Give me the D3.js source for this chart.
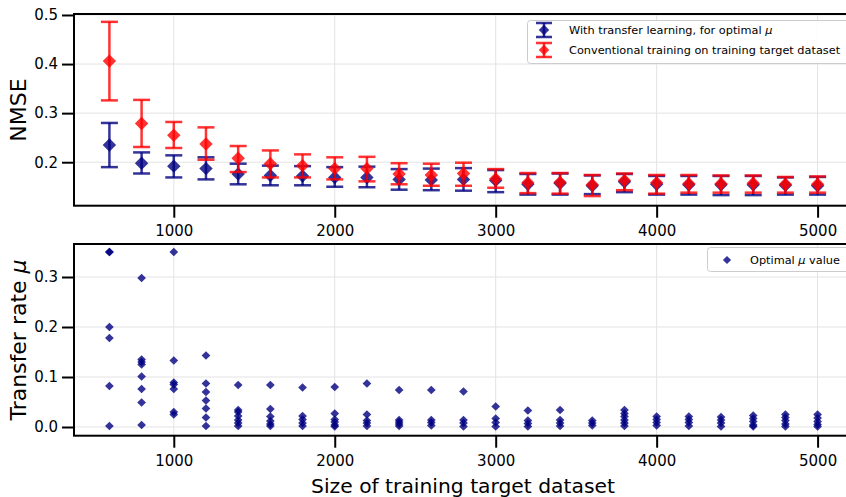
<!DOCTYPE html>
<html>
<head>
<meta charset="utf-8">
<script src="https://cdn.jsdelivr.net/npm/d3@7"></script>
<style>
  body { margin: 0; background: #fff; }
  svg { display: block; font-family: "DejaVu Sans", sans-serif; }
</style>
</head>
<body>
<div id="chart"></div>
<script>
// training set sizes (x axis, shared by both panels)
const sizes = [600, 800, 1000, 1200, 1400, 1600, 1800, 2000, 2200, 2400, 2600, 2800,
  3000, 3200, 3400, 3600, 3800, 4000, 4200, 4400, 4600, 4800, 5000];

// NMSE with transfer learning (mean, lower, upper)
const transferMean = [0.235, 0.198, 0.192, 0.187, 0.176, 0.173, 0.172, 0.169, 0.169, 0.165, 0.164, 0.165,
  0.163, 0.155, 0.157, 0.152, 0.160, 0.155, 0.154, 0.154, 0.154, 0.153, 0.152];
const transferLow = [0.190, 0.177, 0.169, 0.165, 0.155, 0.153, 0.153, 0.150, 0.149, 0.144, 0.143, 0.142,
  0.139, 0.134, 0.134, 0.135, 0.139, 0.134, 0.134, 0.133, 0.133, 0.134, 0.134];
const transferHigh = [0.280, 0.220, 0.214, 0.210, 0.197, 0.193, 0.192, 0.190, 0.191, 0.186, 0.187, 0.188,
  0.184, 0.176, 0.177, 0.173, 0.176, 0.172, 0.172, 0.172, 0.172, 0.169, 0.170];

// NMSE with conventional training
const convMean = [0.406, 0.279, 0.255, 0.237, 0.208, 0.197, 0.193, 0.187, 0.187, 0.176, 0.174, 0.177,
  0.166, 0.158, 0.159, 0.154, 0.163, 0.158, 0.156, 0.156, 0.157, 0.155, 0.155];
const convLow = [0.326, 0.231, 0.229, 0.205, 0.180, 0.169, 0.169, 0.165, 0.161, 0.155, 0.152, 0.152,
  0.148, 0.137, 0.136, 0.131, 0.143, 0.136, 0.138, 0.138, 0.138, 0.138, 0.138];
const convHigh = [0.486, 0.327, 0.282, 0.271, 0.233, 0.224, 0.216, 0.210, 0.211, 0.198, 0.197, 0.199,
  0.186, 0.178, 0.178, 0.174, 0.177, 0.174, 0.174, 0.173, 0.173, 0.170, 0.171];

// optimal mu values found for each size (one list per size)
const muValues = [
  [0.350, 0.350, 0.200, 0.178, 0.082, 0.002],
  [0.298, 0.135, 0.130, 0.125, 0.101, 0.076, 0.049, 0.004],
  [0.350, 0.133, 0.089, 0.085, 0.076, 0.030, 0.025],
  [0.143, 0.087, 0.070, 0.053, 0.037, 0.019, 0.002],
  [0.084, 0.034, 0.030, 0.022, 0.014, 0.008, 0.002],
  [0.084, 0.036, 0.021, 0.012, 0.006, 0.002],
  [0.079, 0.022, 0.015, 0.008, 0.002],
  [0.080, 0.027, 0.015, 0.010, 0.004, 0.001],
  [0.087, 0.025, 0.013, 0.008, 0.002],
  [0.074, 0.014, 0.010, 0.006, 0.002],
  [0.074, 0.014, 0.009, 0.003],
  [0.071, 0.014, 0.008, 0.001],
  [0.041, 0.017, 0.009, 0.001],
  [0.033, 0.013, 0.007, 0.001],
  [0.034, 0.014, 0.008, 0.002],
  [0.013, 0.008, 0.003],
  [0.034, 0.027, 0.021, 0.014, 0.008, 0.002],
  [0.021, 0.015, 0.009, 0.003],
  [0.021, 0.015, 0.009, 0.002],
  [0.020, 0.014, 0.008, 0.001],
  [0.023, 0.017, 0.011, 0.004, 0.001],
  [0.025, 0.019, 0.013, 0.006, 0.001],
  [0.025, 0.018, 0.011, 0.005, 0.001]
];

const xTicks = [1000, 2000, 3000, 4000, 5000];
const nmseTicks = [0.2, 0.3, 0.4, 0.5];
const muTicks = [0.0, 0.1, 0.2, 0.3];

const width = 846, height = 497;
const blue = "rgba(0,0,128,0.8)";
const red = "rgba(255,0,0,0.8)";

const svg = d3.select("#chart").append("svg")
  .attr("width", width).attr("height", height);

// shared x scale, right edge falls just outside the window like the original
const x = d3.scaleLinear().domain([380, 5220]).range([74, 853]);
const yTop = d3.scaleLinear().domain([0.1114, 0.502]).range([205.7, 14]);
const yBot = d3.scaleLinear().domain([-0.0174, 0.366]).range([435.7, 244]);

function drawFrame(y, yTicks, top, bottom) {
  const g = svg.append("g");
  // grid
  g.selectAll(".gx").data(xTicks).join("line")
    .attr("x1", d => x(d)).attr("x2", d => x(d))
    .attr("y1", top).attr("y2", bottom)
    .attr("stroke", "#e3e3e3").attr("stroke-width", 1);
  g.selectAll(".gy").data(yTicks).join("line")
    .attr("x1", x.range()[0]).attr("x2", x.range()[1])
    .attr("y1", d => y(d)).attr("y2", d => y(d))
    .attr("stroke", "#e3e3e3").attr("stroke-width", 1);

  const xAxis = g.append("g")
    .attr("transform", `translate(0,${bottom})`)
    .call(d3.axisBottom(x).tickValues(xTicks).tickSize(12).tickPadding(8).tickFormat(d3.format("d")));
  const yAxis = g.append("g")
    .attr("transform", `translate(${x.range()[0]},0)`)
    .call(d3.axisLeft(y).tickValues(yTicks).tickSize(12).tickPadding(4).tickFormat(d3.format(".1f")));
  [xAxis, yAxis].forEach(a => {
    a.select(".domain").remove();
    a.selectAll(".tick line").attr("stroke", "#000").attr("stroke-width", 2);
    a.selectAll(".tick text").attr("fill", "#000")
      .style("font-family", "DejaVu Sans").style("font-size", "15px");
  });
  // frame
  g.append("rect")
    .attr("x", x.range()[0]).attr("y", top)
    .attr("width", x.range()[1] - x.range()[0]).attr("height", bottom - top)
    .attr("fill", "none").attr("stroke", "#000").attr("stroke-width", 2);
  return g;
}

drawFrame(yTop, nmseTicks, 14, 205.7);
drawFrame(yBot, muTicks, 244, 435.7);

function errorSeries(mean, low, high, color) {
  const g = svg.append("g");
  const rows = sizes.map((s, i) => ({ s, m: mean[i], lo: low[i], hi: high[i] }));
  g.selectAll("line.v").data(rows).join("line")
    .attr("x1", d => x(d.s)).attr("x2", d => x(d.s))
    .attr("y1", d => yTop(d.lo)).attr("y2", d => yTop(d.hi))
    .attr("stroke", color).attr("stroke-width", 2.5);
  ["lo", "hi"].forEach(k => {
    g.selectAll("line.c" + k).data(rows).join("line")
      .attr("x1", d => x(d.s) - 8.5).attr("x2", d => x(d.s) + 8.5)
      .attr("y1", d => yTop(d[k])).attr("y2", d => yTop(d[k]))
      .attr("stroke", color).attr("stroke-width", 2.5);
  });
  g.selectAll("path").data(rows).join("path")
    .attr("d", d3.symbol().type(d3.symbolSquare).size(90))
    .attr("transform", d => `translate(${x(d.s)},${yTop(d.m)}) rotate(45)`)
    .attr("fill", color);
}

errorSeries(transferMean, transferLow, transferHigh, blue);
errorSeries(convMean, convLow, convHigh, red);

// scatter of optimal mu
const muPoints = sizes.flatMap((s, i) => muValues[i].map(v => ({ s, v })));
svg.append("g").selectAll("path").data(muPoints).join("path")
  .attr("d", d3.symbol().type(d3.symbolSquare).size(38))
  .attr("transform", d => `translate(${x(d.s)},${yBot(d.v)}) rotate(45)`)
  .attr("fill", blue);

// axis labels
svg.append("text")
  .attr("transform", `translate(26,110) rotate(-90)`)
  .attr("text-anchor", "middle")
  .style("font-size", "22px")
  .text("NMSE");

const muLabel = svg.append("text")
  .attr("transform", `translate(26,340) rotate(-90)`)
  .attr("text-anchor", "middle")
  .style("font-size", "22px");
muLabel.append("tspan").text("Transfer rate ");
muLabel.append("tspan").style("font-style", "italic").text("μ");

svg.append("text")
  .attr("x", 463).attr("y", 493)
  .attr("text-anchor", "middle")
  .style("font-size", "20.3px")
  .text("Size of training target dataset");

// legend, top panel
const lg = svg.append("g");
lg.append("rect")
  .attr("x", 527.5).attr("y", 20.5).attr("width", 330).attr("height", 43).attr("rx", 3)
  .attr("fill", "rgba(255,255,255,0.85)").attr("stroke", "#cccccc");
const legendRows = [
  { label: "With transfer learning, for optimal ", color: blue, y: 30 },
  { label: "Conventional training on training target dataset", color: red, y: 50 }
];
legendRows.forEach((r, i) => {
  const cx = 544;
  lg.append("line").attr("x1", cx).attr("x2", cx).attr("y1", r.y - 7).attr("y2", r.y + 7)
    .attr("stroke", r.color).attr("stroke-width", 2.5);
  [-7, 7].forEach(o => lg.append("line")
    .attr("x1", cx - 8).attr("x2", cx + 8).attr("y1", r.y + o).attr("y2", r.y + o)
    .attr("stroke", r.color).attr("stroke-width", 2.5));
  lg.append("path").attr("d", d3.symbol().type(d3.symbolSquare).size(55))
    .attr("transform", `translate(${cx},${r.y}) rotate(45)`).attr("fill", r.color);
  const t = lg.append("text").attr("x", 569).attr("y", r.y).attr("dy", "0.35em")
    .style("font-size", "11.3px").text(r.label);
  if (i === 0) t.append("tspan").style("font-style", "italic").text("μ");
});

// legend, bottom panel
const lg2 = svg.append("g");
lg2.append("rect")
  .attr("x", 707.5).attr("y", 247.5).attr("width", 150).attr("height", 24).attr("rx", 3)
  .attr("fill", "rgba(255,255,255,0.85)").attr("stroke", "#cccccc");
lg2.append("path").attr("d", d3.symbol().type(d3.symbolSquare).size(34))
  .attr("transform", "translate(727,260) rotate(45)").attr("fill", blue);
const t2 = lg2.append("text").attr("x", 750).attr("y", 260).attr("dy", "0.35em")
  .style("font-size", "11.3px").text("Optimal ");
t2.append("tspan").style("font-style", "italic").text("μ");
t2.append("tspan").text(" value");
</script>
</body>
</html>
